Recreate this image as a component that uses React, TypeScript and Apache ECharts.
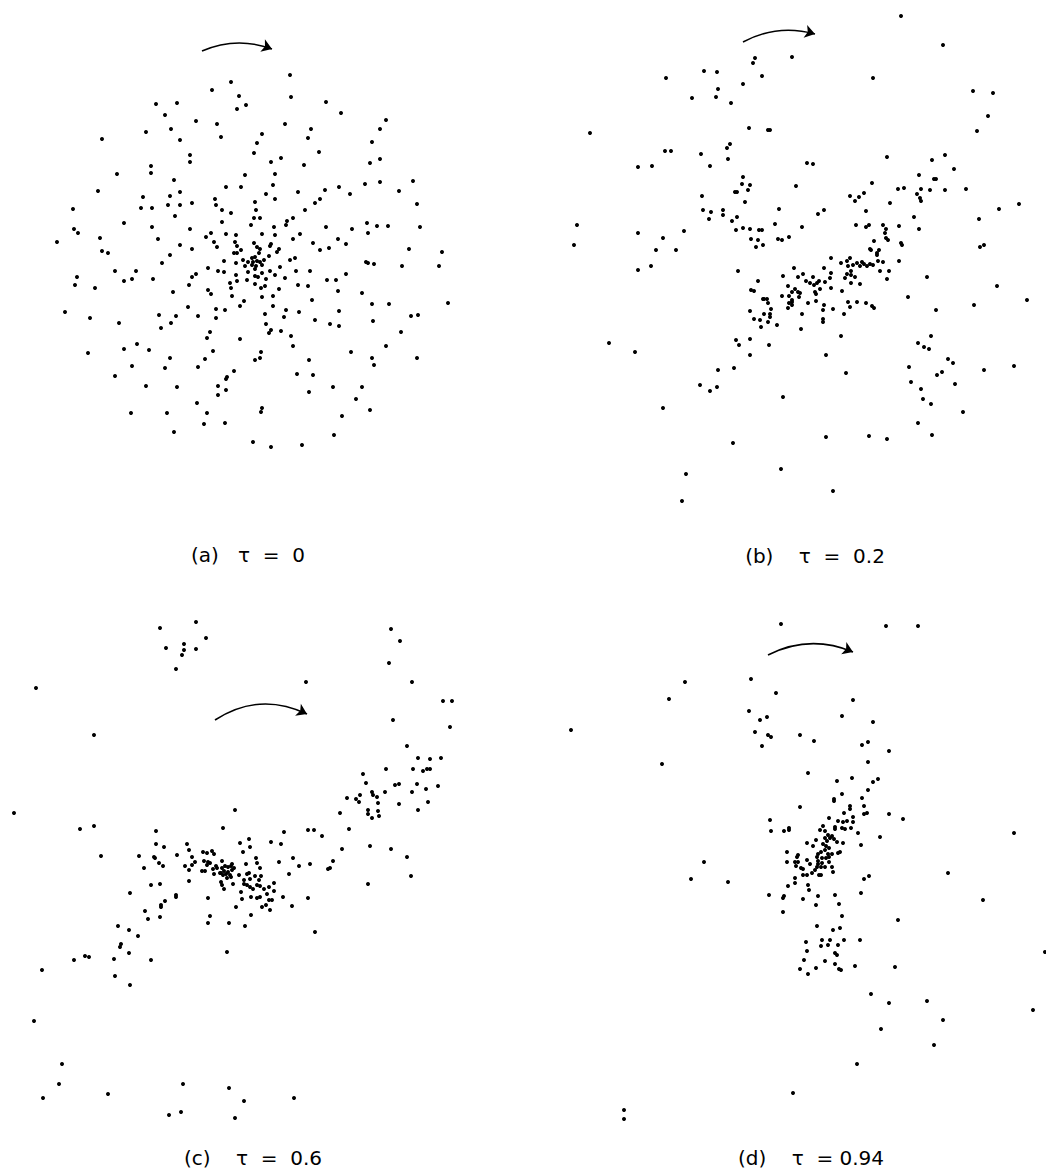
import React, { useEffect, useRef } from "react";
import * as echarts from "echarts";

type P = [number, number];

// Panel (a) tau = 0 — dot positions (page pixel units)
const POINTS_A: P[] = [
  [290,75],[231,82],[212,90],[239,96],[291,97],[156,104],[177,103],[326,102],[246,105],[237,109],[341,113],[165,115],[386,120],[196,121],[217,124],[285,124],[380,129],[171,129],[311,129],[146,132],[262,134],[102,139],[180,140],[221,137],[308,138],[372,142],[257,143],[254,153],[319,152],[190,155],[190,162],[281,158],[271,162],[380,159],[370,163],[151,166],[304,165],[117,174],[151,173],[275,174],[245,175],[174,180],[380,182],[413,181],[365,184],[273,185],[98,191],[180,192],[226,187],[241,187],[325,190],[339,187],[350,194],[399,191],[298,192],[266,194],[143,197],[170,196],[215,199],[275,199],[320,199],
  [73,209],[141,208],[152,208],[168,205],[180,205],[192,203],[216,205],[222,210],[231,213],[255,202],[256,210],[315,203],[305,210],[417,204],[175,216],[254,218],[260,218],[293,218],[287,221],[124,223],[222,222],[251,225],[286,225],[274,227],[326,227],[367,223],[377,226],[388,226],[420,227],[352,229],[74,229],[78,233],[152,227],[190,229],[368,233],[211,233],[226,234],[236,235],[262,234],[275,235],[300,234],[100,238],[158,239],[206,237],[293,239],[338,239],[57,242],[214,242],[235,242],[254,243],[271,244],[313,243],[346,244],[180,245],[217,247],[237,246],[257,247],[270,246],[279,249],[329,248],[102,251],[108,253],[192,249],[241,250],[260,249],[277,252],[320,250],[409,249],[442,252],[234,253],[237,253],[259,253],[170,255],[269,256],[252,258],[255,257],[264,260],[290,260],[295,258],[224,261],[243,260],[248,262],[253,262],[257,261],[260,262],[252,265],[256,266],[245,266],[255,269],[366,262],[368,263],[374,264],[162,263],[236,263],[262,265],[280,267],[402,266],[439,266],[208,268],[115,271],[136,271],[218,271],[224,272],[248,272],[262,273],[270,271],[275,275],[296,271],[310,271],[346,274],[77,277],[192,277],[196,274],[236,275],[255,276],[258,277],[285,278],[153,279],[124,281],[132,279],[247,280],[266,279],[327,280],[336,280],[237,281],[75,285],[95,288],[189,285],[230,283],[231,288],[255,284],[261,288],[265,286],[279,289],[298,285],[308,286],[208,290],[211,294],[173,292],[338,291],[362,293],[232,296],[262,297],[273,296],[312,300],[244,301],[240,306],[273,306],[372,304],[389,304],[448,303],[188,307],[216,309],[225,310],[286,310],[299,312],[339,311],[65,312],[159,315],[176,316],[198,316],[265,314],[284,317],[90,318],[216,318],[315,320],[373,321],[411,316],[418,315],[119,323],[171,323],[266,324],[330,324],[339,326],[161,328],[271,330],[269,333],[281,331],[210,332],[291,336],[401,332],[207,338],[240,339],
  [88,353],[124,349],[137,344],[149,350],[170,358],[205,359],[213,351],[293,346],[386,346],[351,352],[372,358],[417,358],[255,360],[260,358],[261,352],[309,360],[132,366],[165,368],[198,367],[234,371],[374,365],[115,376],[227,377],[226,379],[297,374],[313,375],[146,386],[177,387],[218,386],[226,390],[333,387],[362,387],[309,392],[218,395],[356,399],[197,403],[262,408],[261,412],[370,410],[131,413],[167,413],[207,413],[342,416],[204,424],[225,423],[174,432],[334,435],[253,442],[271,447],[302,445],
];

// Panel (b) tau = 0.2
const POINTS_B: P[] = [
  [901,16],[943,45],[792,57],[755,58],[753,63],[704,71],[717,72],[666,78],[762,76],[873,78],[743,84],[718,89],[973,91],[993,93],[716,97],[692,98],[731,103],[988,116],[749,128],[768,130],[770,130],[977,131],[590,133],[730,144],[727,148],[665,151],[671,151],[701,154],[945,155],[887,157],[932,160],[728,159],[807,163],[813,164],[638,167],[652,166],[710,166],[954,169],[919,175],[743,177],[934,179],[936,179],[872,183],[742,184],[750,185],[796,186],[735,192],[737,192],[748,190],[898,189],[904,188],[921,189],[930,190],[945,190],[966,189],[917,194],[920,198],[702,196],[850,196],[859,197],[864,193],
  [921,201],[745,202],[855,201],[890,203],[1019,204],[999,209],[703,210],[711,212],[723,210],[723,215],[709,219],[737,217],[732,221],[779,209],[818,214],[824,210],[866,211],[914,217],[979,219],[577,225],[856,225],[866,227],[869,225],[883,225],[886,229],[885,233],[899,226],[919,229],[775,224],[802,227],[743,228],[750,229],[736,230],[759,230],[762,230],[638,233],[684,231],[663,238],[751,239],[758,240],[778,239],[782,240],[789,237],[886,238],[888,240],[874,241],[901,243],[902,245],[574,245],[656,250],[676,250],[756,247],[763,245],[870,249],[871,250],[879,250],[877,253],[877,255],[980,247],[984,245],[831,258],[850,258],[883,262],[899,261],[847,261],[841,263],[853,265],[857,263],[860,266],[864,264],[867,266],[870,264],[873,265],[862,262],[878,261],[848,266],[851,271],[880,271],[889,271],[638,270],[651,266],[738,271],[794,268],[824,268],[831,273],[803,274],[783,276],[798,277],[813,277],[847,274],[851,275],[845,278],[855,277],[887,279],[927,277],[830,278],[806,281],[810,283],[819,281],[817,283],[814,285],[825,282],[758,281],[851,283],[860,284],[788,286],[997,286],[831,288],[820,289],[815,292],[816,294],[795,289],[798,292],[800,293],[792,292],[751,290],[754,291],[842,291],[782,296],[789,296],[799,297],[792,300],[792,302],[789,303],[792,305],[763,299],[764,299],[767,299],[768,303],[808,303],[816,301],[848,302],[857,302],[866,303],[872,306],[874,308],[850,307],[908,297],[974,305],[1027,300],[788,308],[824,305],[823,310],[833,309],[771,309],[750,311],[936,310],[770,314],[770,317],[764,314],[802,314],[844,314],[754,319],[760,320],[768,322],[823,319],[823,322],[777,325],[761,327],[801,329],[841,336],[931,336],[736,340],[750,339],[918,343],[609,343],[769,345],
  [635,352],[739,345],[750,355],[826,355],[924,347],[929,349],[948,359],[953,363],[1014,366],[984,370],[718,370],[734,368],[846,373],[909,367],[937,375],[942,372],[700,385],[710,391],[717,387],[911,382],[955,384],[921,389],[783,397],[923,399],[931,404],[663,408],[963,412],[918,423],[826,437],[869,436],[887,439],[932,435],[733,443],[781,469],[686,474],[833,491],[682,501],
];

// Panel (c) tau = 0.6
const POINTS_C: P[] = [
  [196,622],[160,628],[206,638],[184,644],[166,648],[184,650],[196,649],[182,655],[176,669],[391,629],[400,641],[389,663],[306,682],[412,682],[36,688],[443,701],[452,701],[393,720],[450,727],[94,735],[407,746],[418,758],[430,759],[441,758],[386,769],[413,769],[423,771],[427,769],[430,769],[363,774],[366,783],[395,785],[399,784],[417,784],[426,789],[438,786],[372,792],[373,795],[385,792],[412,792],[360,795],[377,797],[347,798],[356,799],[359,802],[378,803],[399,804],[428,802],
  [368,810],[378,811],[368,814],[372,818],[379,816],[418,810],[340,813],[14,813],[235,810],[80,829],[94,826],[223,828],[156,831],[284,832],[308,830],[314,830],[322,836],[349,829],[249,839],[240,843],[250,847],[271,842],[281,844],[156,844],[164,847],[187,844],[189,850],[370,846],[391,849],[342,849],[101,856],[139,856],[154,857],[155,858],[177,855],[203,852],[207,853],[212,851],[214,854],[243,852],[256,858],[293,858],[407,857],[192,857],[195,862],[192,865],[185,866],[204,861],[208,862],[210,863],[207,865],[222,861],[159,863],[163,866],[144,868],[246,864],[257,863],[279,862],[299,866],[310,864],[333,861],[328,869],[330,868],[189,870],[202,871],[205,871],[213,869],[216,866],[217,868],[222,868],[225,866],[228,867],[231,866],[224,871],[228,872],[232,870],[226,874],[230,875],[221,873],[234,868],[232,864],[260,868],[214,874],[220,873],[223,875],[227,878],[231,877],[239,875],[247,874],[249,873],[255,876],[261,876],[289,874],[244,880],[250,879],[259,880],[189,881],[151,885],[160,884],[221,882],[222,885],[233,884],[244,884],[247,885],[250,887],[253,889],[257,885],[260,886],[269,887],[274,883],[224,889],[264,889],[274,891],[368,884],[411,876],[130,893],[241,892],[267,894],[176,895],[176,897],[208,898],[251,897],[257,898],[260,897],[269,900],[272,900],[283,897],[308,898],[165,901],[242,899],[161,905],[161,907],[236,907],[262,907],[266,905],[270,910],[292,906],[145,911],[148,919],[160,917],[210,916],[251,915],[208,923],[229,923],[245,926],[118,926],[129,930],[138,936],[315,932],[121,944],[120,947],[129,953],[227,952],[85,956],[89,957],[74,960],[114,959],[151,960],[42,970],[115,976],
  [130,985],[34,1021],[62,1064],[59,1084],[43,1098],[108,1094],[183,1084],[229,1088],[244,1101],[294,1098],[169,1115],[181,1112],[235,1118],
];

// Panel (d) tau = 0.94
const POINTS_D: P[] = [
  [781,624],[886,626],[918,626],[685,682],[751,679],[669,699],[776,693],[853,700],[749,711],[760,720],[767,717],[842,716],[873,722],[571,730],[755,732],[768,735],[771,737],[800,735],[814,741],[868,742],[862,745],[762,746],[889,751],[868,762],[662,764],[808,773],[837,781],[852,778],[873,782],[878,779],[868,790],[842,794],[834,799],[862,798],
  [834,801],[800,807],[850,806],[850,809],[864,806],[864,814],[867,813],[889,814],[903,819],[844,813],[770,820],[829,818],[838,821],[843,822],[847,821],[853,817],[853,822],[1014,833],[771,831],[784,831],[789,828],[789,830],[820,830],[825,831],[823,826],[835,827],[835,829],[842,828],[845,829],[851,828],[858,833],[880,837],[828,835],[830,838],[832,836],[825,838],[834,839],[827,841],[837,842],[843,843],[807,843],[816,840],[813,846],[823,844],[826,846],[829,848],[861,845],[787,852],[818,854],[821,852],[825,850],[828,854],[832,854],[838,853],[840,852],[798,855],[797,857],[817,857],[822,858],[826,858],[829,857],[704,862],[787,862],[795,862],[798,862],[807,860],[810,864],[818,861],[818,864],[822,863],[829,862],[817,867],[821,867],[825,867],[796,866],[801,868],[803,869],[832,867],[815,870],[833,872],[812,873],[803,875],[807,875],[819,875],[821,875],[691,879],[728,882],[795,878],[795,883],[864,879],[869,876],[948,873],[788,886],[808,885],[809,890],[769,895],[784,896],[783,898],[803,899],[818,896],[835,895],[861,893],[816,905],[839,904],[983,900],[783,912],[842,916],[898,920],[817,926],[833,930],[840,928],[806,942],[822,940],[830,940],[844,940],[860,940],[821,946],[828,945],[838,945],[807,951],[835,953],[837,955],[804,960],[825,961],[835,964],[839,969],[841,970],[855,966],[895,967],[816,968],[800,969],[808,974],[1045,952],
  [871,994],[889,1003],[927,1001],[1033,1010],[943,1020],[881,1029],[934,1045],[857,1064],[793,1093],[624,1110],[624,1119],
];

// Rotation arrows: start, end, bend
const ARROWS: { from: P; to: P; bend: number }[] = [
  { from: [202, 51], to: [272, 49], bend: 0.2 },
  { from: [743, 42], to: [815, 34], bend: 0.2 },
  { from: [215, 720], to: [307, 714], bend: 0.28 },
  { from: [768, 655], to: [853, 652], bend: 0.23 },
];

const LABELS = ["(a)   τ  =  0", "(b)    τ  =  0.2", "(c)    τ  =  0.6", "(d)    τ  = 0.94"];
const LABEL_POS: P[] = [[248, 555], [815, 556], [253, 1158], [811, 1158]];

const PANELS = [POINTS_A, POINTS_B, POINTS_C, POINTS_D];
const W = 1046, H = 1172, HW = 523, HH = 586;

export default function App() {
  const ref = useRef<HTMLDivElement>(null);
  useEffect(() => {
    if (!ref.current) return;
    const chart = echarts.init(ref.current, undefined, { renderer: "svg" });
    const grids: any[] = [], xAxes: any[] = [], yAxes: any[] = [], series: any[] = [];
    for (let i = 0; i < 4; i++) {
      const col = i % 2, row = Math.floor(i / 2);
      grids.push({ left: col * HW, top: row * HH, width: HW, height: HH });
      xAxes.push({ type: "value", gridIndex: i, min: col * HW, max: (col + 1) * HW, show: false });
      yAxes.push({ type: "value", gridIndex: i, min: row * HH, max: (row + 1) * HH, inverse: true, show: false });
      series.push({
        type: "scatter",
        xAxisIndex: i,
        yAxisIndex: i,
        data: PANELS[i],
        symbol: "circle",
        symbolSize: 4,
        itemStyle: { color: "#000", opacity: 1 },
        silent: true,
      });
      const a = ARROWS[i];
      series.push({
        type: "lines",
        coordinateSystem: "cartesian2d",
        xAxisIndex: i,
        yAxisIndex: i,
        symbol: ["none", "arrow"],
        symbolSize: 10,
        lineStyle: { color: "#000", width: 1.6, curveness: a.bend, opacity: 1 },
        data: [{ coords: [a.from, a.to] }],
        silent: true,
      });
    }
    chart.setOption({
      animation: false,
      backgroundColor: "#ffffff",
      grid: grids,
      xAxis: xAxes,
      yAxis: yAxes,
      series,
      graphic: LABELS.map((t, i) => ({
        type: "text",
        x: LABEL_POS[i][0],
        y: LABEL_POS[i][1],
        style: {
          text: t,
          fill: "#000",
          font: "20px 'DejaVu Sans'",
          align: "center",
          verticalAlign: "middle",
        },
      })),
    });
    return () => chart.dispose();
  }, []);
  return (
    <div
      ref={ref}
      style={{ position: "absolute", left: 0, top: 0, width: W, height: H, background: "#fff" }}
    />
  );
}
